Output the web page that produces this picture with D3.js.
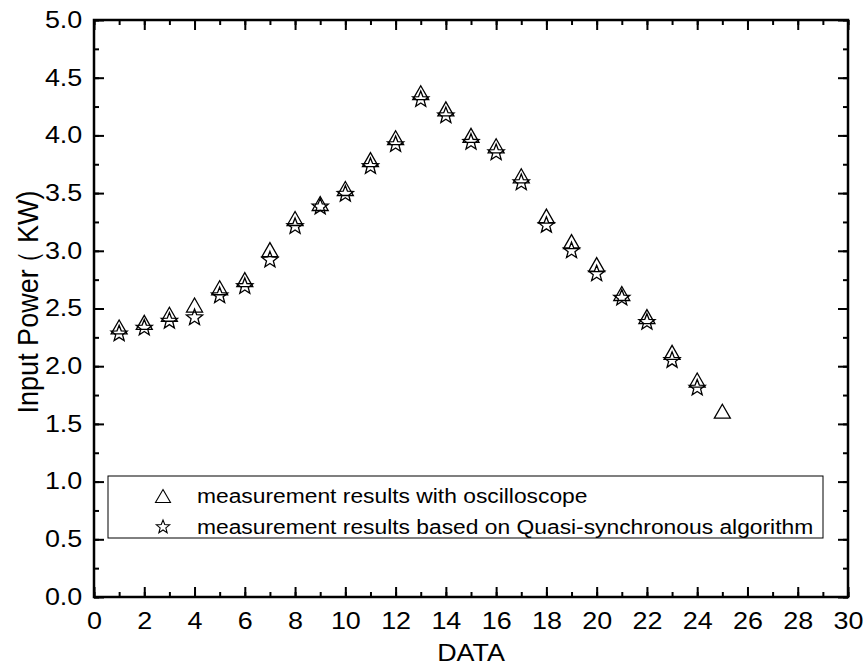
<!DOCTYPE html>
<html><head><meta charset="utf-8">
<script src="https://cdn.jsdelivr.net/npm/d3@7"></script>
<style>body{margin:0;background:#fff}svg{display:block}text{font-family:Arial,"Liberation Sans",sans-serif;fill:#000}</style>
</head><body><svg id="c" width="868" height="669"></svg>
<script>
const xData = [1,2,3,4,5,6,7,8,9,10,11,12,13,14,15,16,17,18,19,20,21,22,23,24,25];
const oscilloscope = [2.34,2.38,2.45,2.53,2.68,2.75,3.01,3.28,3.41,3.54,3.79,3.98,4.37,4.23,4.00,3.91,3.65,3.30,3.08,2.88,2.63,2.43,2.12,1.88,1.61];
const quasiSync = [2.29,2.34,2.40,2.43,2.62,2.70,2.93,3.22,3.39,3.50,3.74,3.93,4.32,4.18,3.95,3.86,3.60,3.23,3.01,2.81,2.60,2.39,2.06,1.82];
const xMajorTicks = [0,2,4,6,8,10,12,14,16,18,20,22,24,26,28,30];
const yMajorTicks = [0,0.5,1,1.5,2,2.5,3,3.5,4,4.5,5];
const legendLabels = ["measurement results with oscilloscope","measurement results based on Quasi-synchronous algorithm"];
const xTitle = "DATA";
const yTitleMain = "Input Power", yTitleParen = "\uFF08", yTitleUnit = " KW)";

const svg = d3.select("#c");
const L=94, R=848, T=20, B=597;
const SX = 1.17;
const x = d3.scaleLinear().domain([0,30]).range([L,R]);
const y = d3.scaleLinear().domain([0,5]).range([B,T]);
const xMinor = d3.range(0,31,1), yMinor = d3.range(0,5.01,0.25);
const fs = 23;

function styleAxis(g){ g.select(".domain").remove(); g.selectAll("line").attr("stroke","#000").attr("stroke-width",2); g.selectAll("text").attr("font-size",fs).style("font-family","Arial, 'Liberation Sans', sans-serif").attr("transform",`scale(${SX},1)`); }

// minor ticks
svg.append("g").attr("transform",`translate(0,${B})`).call(d3.axisBottom(x).tickValues(xMinor).tickSize(-5).tickFormat("")).call(styleAxis);
svg.append("g").attr("transform",`translate(0,${T})`).call(d3.axisTop(x).tickValues(xMinor).tickSize(-5).tickFormat("")).call(styleAxis);
svg.append("g").attr("transform",`translate(${L},0)`).call(d3.axisLeft(y).tickValues(yMinor).tickSize(-5).tickFormat("")).call(styleAxis);
svg.append("g").attr("transform",`translate(${R},0)`).call(d3.axisRight(y).tickValues(yMinor).tickSize(-5).tickFormat("")).call(styleAxis);
// major ticks
svg.append("g").attr("transform",`translate(0,${B})`).call(d3.axisBottom(x).tickValues(xMajorTicks).tickSize(-10).tickPadding(16).tickFormat(d3.format("d"))).call(styleAxis);
svg.append("g").attr("transform",`translate(0,${T})`).call(d3.axisTop(x).tickValues(xMajorTicks).tickSize(-10).tickFormat("")).call(styleAxis);
svg.append("g").attr("transform",`translate(${L},0)`).call(d3.axisLeft(y).tickValues(yMajorTicks).tickSize(-10).tickPadding(10).tickFormat(d3.format(".1f"))).call(styleAxis);
svg.append("g").attr("transform",`translate(${R},0)`).call(d3.axisRight(y).tickValues(yMajorTicks).tickSize(-10).tickFormat("")).call(styleAxis);

// frame
svg.append("rect").attr("x",L).attr("y",T).attr("width",R-L).attr("height",B-T).attr("fill","none").attr("stroke","#000").attr("stroke-width",2.5);

// symbols
const triPath = (w,h)=>`M0,${-h/2}L${w/2},${h/2}L${-w/2},${h/2}Z`;
function starPath(ro,ri){ let p=""; for(let i=0;i<10;i++){const r=i%2?ri:ro; const a=-Math.PI/2+i*Math.PI/5; p+=(i?"L":"M")+(r*Math.cos(a)).toFixed(2)+","+(r*Math.sin(a)).toFixed(2);} return p+"Z"; }

svg.append("g").selectAll("path").data(xData.map((d,i)=>[d,oscilloscope[i]])).join("path")
  .attr("d",triPath(16,14)).attr("transform",d=>`translate(${x(d[0])},${y(d[1])})`)
  .attr("fill","none").attr("stroke","#000").attr("stroke-width",1.3);
svg.append("g").selectAll("path").data(quasiSync.map((v,i)=>[xData[i],v])).join("path")
  .attr("d",starPath(8.5,3.6)).attr("transform",d=>`translate(${x(d[0])},${y(d[1])+1})`)
  .attr("fill","none").attr("stroke","#000").attr("stroke-width",1.3);

// legend
const lg = svg.append("g");
lg.append("rect").attr("x",108).attr("y",476).attr("width",715).attr("height",62).attr("fill","#fff").attr("stroke","#000").attr("stroke-width",1);
lg.append("path").attr("d",triPath(15,13)).attr("transform","translate(163,496)").attr("fill","none").attr("stroke","#000").attr("stroke-width",1.1);
lg.append("path").attr("d",starPath(7,3)).attr("transform","translate(163,527)").attr("fill","none").attr("stroke","#000").attr("stroke-width",1.1);
lg.selectAll("text").data(legendLabels).join("text").attr("transform",(d,i)=>`translate(197,${496+i*31}) scale(${SX},1)`).attr("dy","0.35em").attr("font-size",19.5).text(d=>d);

// titles
svg.append("text").attr("transform",`translate(${(L+R)/2},661) scale(${SX},1)`).attr("text-anchor","middle").attr("font-size",fs).text(xTitle);
const yt = svg.append("text").attr("transform",`translate(38,302) scale(1.08,1) rotate(-90)`).attr("text-anchor","middle").attr("font-size",27);
yt.append("tspan").text(yTitleMain);
yt.append("tspan").attr("dx","-0.3em").text(yTitleParen);
yt.append("tspan").text(yTitleUnit);
</script></body></html>
